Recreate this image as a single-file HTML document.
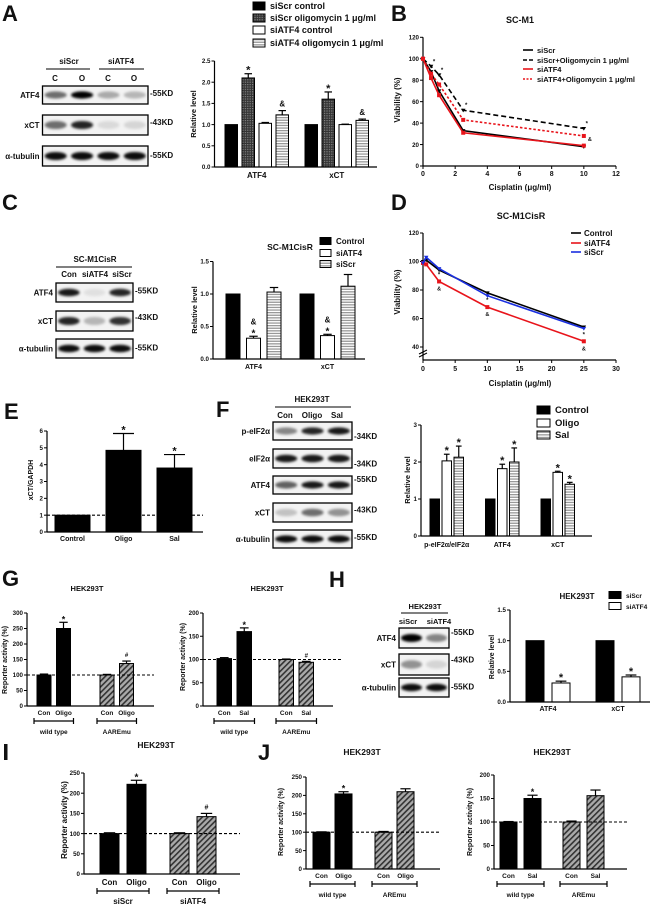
<!DOCTYPE html>
<html><head><meta charset="utf-8">
<style>
html,body{margin:0;padding:0;background:#fff;}
svg{display:block;font-family:"Liberation Sans",Arial,sans-serif;}
text{fill:#111;}
</style></head>
<body>
<svg id="fig" width="650" height="906" viewBox="0 0 650 906" xmlns="http://www.w3.org/2000/svg">
<defs>
<pattern id="check" width="2.4" height="2.4" patternUnits="userSpaceOnUse"><rect width="2.4" height="2.4" fill="#333"/><rect width="1.2" height="1.2" fill="#888"/></pattern>
<pattern id="hs" width="3" height="2.6" patternUnits="userSpaceOnUse"><rect width="3" height="2.6" fill="#fff"/><rect y="0" width="3" height="1.3" fill="#999"/></pattern>
<pattern id="diag" width="4" height="4" patternUnits="userSpaceOnUse" patternTransform="rotate(45)"><rect width="4" height="4" fill="#aaa"/><rect width="1.6" height="4" fill="#333"/></pattern>
<filter id="blur" x="-50%" y="-50%" width="200%" height="200%"><feGaussianBlur stdDeviation="1.3"/></filter>
</defs>
</svg>
<script>
// ---------- data ----------
const aCats=['ATF4','xCT'];
const aSeries=['siScr control','siScr oligomycin 1 μg/ml','siATF4 control','siATF4 oligomycin 1 μg/ml'];
const aVals=[[1,2.1,1.03,1.23],[1,1.6,1.0,1.1]];
const aErr=[[0,0.1,0.02,0.1],[0,0.17,0.01,0.03]];
const aMarks=[['','*','','&'],['','*','','&']];
const aTicks=[0,0.5,1,1.5,2,2.5];

const bX=[0,0.5,1,2.5,10];
const bSeries=['siScr','siScr+Oligomycin 1 μg/ml','siATF4','siATF4+Oligomycin 1 μg/ml'];
const bSiScr=[100,88,70,33,18];
const bSiScrOligo=[100,93,85,52,35];
const bSiATF4=[100,82,66,31,19];
const bSiATF4Oligo=[100,86,76,43,28];
const bXTicks=[0,2,4,6,8,10,12];
const bYTicks=[0,20,40,60,80,100,120];

const cCats=['ATF4','xCT'];
const cSeries=['Control','siATF4','siScr'];
const cVals=[[1,0.32,1.03],[1,0.36,1.12]];
const cErr=[[0,0.03,0.07],[0,0.02,0.18]];
const cMarks=[['','&\n*',''],['','&\n*','']];
const cTicks=[0,0.5,1,1.5];

const dX=[0,0.5,2.5,10,25];
const dSeries=['Control','siATF4','siScr'];
const dControl=[100,101,94,78,54];
const dSiATF4=[99,98,86,68,44];
const dSiScr=[99,103,95,76,53];
const dXTicks=[0,5,10,15,20,25,30];
const dYTicks=[40,60,80,100,120];

const eCats=['Control','Oligo','Sal'];
const eVals=[1,4.85,3.8];
const eErr=[0,1.0,0.8];
const eMarks=['','*','*'];
const eTicks=[0,1,2,3,4,5,6];

const fCats=['p-eIF2α/eIF2α','ATF4','xCT'];
const fSeries=['Control','Oligo','Sal'];
const fVals=[[1,2.03,2.13],[1,1.82,2.0],[1,1.72,1.4]];
const fErr=[[0,0.18,0.3],[0,0.12,0.38],[0,0.03,0.05]];
const fMarks=[['','*','*'],['','*','*'],['','*','*']];
const fTicks=[0,1,2,3];

const g1Groups=['wild type','AAREmu'];
const g1Bars=[['Con','Oligo'],['Con','Oligo']];
const g1Vals=[[100,250],[100,137]];
const g1Err=[[3,20],[2,8]];
const g1Marks=[['','*'],['','#']];
const g1Ticks=[0,50,100,150,200,250,300];

const g2Groups=['wild type','AAREmu'];
const g2Bars=[['Con','Sal'],['Con','Sal']];
const g2Vals=[[102,160],[100,94]];
const g2Err=[[2,8],[1,2]];
const g2Marks=[['','*'],['','#']];
const g2Ticks=[0,50,100,150,200];

const hCats=['ATF4','xCT'];
const hSeries=['siScr','siATF4'];
const hVals=[[1,0.31],[1,0.41]];
const hErr=[[0,0.03],[0,0.03]];
const hMarks=[['','*'],['','*']];
const hTicks=[0,0.5,1,1.5];

const iGroups=['siScr','siATF4'];
const iBars=[['Con','Oligo'],['Con','Oligo']];
const iVals=[[100,222],[100,142]];
const iErr=[[2,10],[2,8]];
const iMarks=[['','*'],['','#']];
const iTicks=[0,50,100,150,200,250];

const j1Groups=['wild type','AREmu'];
const j1Bars=[['Con','Oligo'],['Con','Oligo']];
const j1Vals=[[100,204],[100,210]];
const j1Err=[[1,6],[2,8]];
const j1Marks=[['','*'],['','']];
const j1Ticks=[0,50,100,150,200,250];

const j2Groups=['wild type','AREmu'];
const j2Bars=[['Con','Sal'],['Con','Sal']];
const j2Vals=[[100,150],[100,156]];
const j2Err=[[1,7],[2,12]];
const j2Marks=[['','*'],['','']];
const j2Ticks=[0,50,100,150,200];

// ---------- helpers ----------
const NS='http://www.w3.org/2000/svg';
const svg=document.getElementById('fig');
function mk(tag,attrs,parent){const e=document.createElementNS(NS,tag);for(const k in attrs)e.setAttribute(k,attrs[k]);(parent||svg).appendChild(e);return e;}
function txt(s,x,y,size,parent,anchor,weight){const t=mk('text',{x:x,y:y,'font-size':size,'text-anchor':anchor||'middle','font-weight':weight||'bold'},parent);t.textContent=s;return t;}
function grp(name){const g=mk('g',{});return g;}

function panelLetter(s,x,y){const t=txt(s,x,y,22,svg,'start','bold');}

function yAxis(g,L,base,top,max,min,ticks,fmt){
  const y=v=>base-((v-min)/(max-min))*(base-top);
  const ax=mk('line',{x1:L,y1:base,x2:L,y2:top,stroke:'#000','stroke-width':1.2},g);
  
  
  ticks.forEach(v=>{
    const tk=mk('line',{x1:L-3,y1:y(v),x2:L,y2:y(v),stroke:'#000','stroke-width':1},g);
    
    
    const tl=txt(fmt(v),L-4,y(v)+2.2,6.2,g,'end');
    
    
  });
  return y;
}
function yTitle(g,s,x,cy,size){const t=txt(s,0,0,size||7.5,g,'middle');t.setAttribute('transform','translate('+x+','+cy+') rotate(-90)');}

function bars(g,o,y){
  // o.vals[group][bar]
  o.vals.forEach((grpv,gi)=>{
    grpv.forEach((v,bi)=>{
      const x=o.first+gi*o.gstep+bi*o.step;
      const top=y(v), e=o.err[gi][bi];
      if(e>0){
        const el=mk('line',{x1:x+o.w/2,y1:top,x2:x+o.w/2,y2:y(v+e),stroke:'#000','stroke-width':1.2},g);
        
        
        const cap=mk('line',{x1:x+o.w*0.2,y1:y(v+e),x2:x+o.w*0.8,y2:y(v+e),stroke:'#000','stroke-width':1.2},g);
        
        
      }
      const r=mk('rect',{x:x,y:top,width:o.w,height:o.base-top,fill:o.fills[bi],stroke:'#000','stroke-width':1},g);
      
      
      const m=o.marks[gi][bi];
      if(m){
        const lines=m.split('\n');
        lines.forEach((s,li)=>{
          const sz=s==='*'?o.starSize||10:o.markSize||8;
          const t=txt(s,x+o.w/2,y(v+e)-4-(lines.length-1-li)*8+(s==='*'?4:0),sz,g);
          
          
        });
      }
    });
  });
}
function xAxis(g,L,R,base){const a=mk('line',{x1:L,y1:base,x2:R,y2:base,stroke:'#000','stroke-width':1.2},g);}
function catLabels(g,o,cats,ly,size){
  cats.forEach((c,gi)=>{
    const n=o.vals[gi].length;
    const cx=o.first+gi*o.gstep+((n-1)*o.step+o.w)/2;
    const t=txt(c,cx,ly,size||7.5,g);
    
    
  });
}
function barLabels(g,o,barNames,groupNames,ly,size){
  barNames.forEach((bn,gi)=>{
    bn.forEach((s,bi)=>{
      const x=o.first+gi*o.gstep+bi*o.step+o.w/2;
      const t=txt(s,x,ly,size||6.5,g);
      
      
    });
    const x1=o.first+gi*o.gstep-3, x2=o.first+gi*o.gstep+(bn.length-1)*o.step+o.w+3;
    const by=ly+6;
    const br=mk('path',{d:'M'+x1+' '+(by-3)+'V'+(by+3)+'M'+x1+' '+by+'H'+x2+'M'+x2+' '+(by-3)+'V'+(by+3),stroke:'#000','stroke-width':1.2,fill:'none'},g);
    
    
    const t=txt(groupNames[gi],(x1+x2)/2,by+13,size||6.5,g);
    
    
  });
}
function dashed(g,L,R,yv){const d=mk('line',{x1:L,y1:yv,x2:R,y2:yv,stroke:'#000','stroke-width':1.1,'stroke-dasharray':'3,2'},g);}
function legendSwatch(g,x,yc,fill,label,size,w,h){
  const r=mk('rect',{x:x,y:yc-(h||7)/2,width:w||12,height:h||7,fill:fill,stroke:'#000','stroke-width':1},g);
  
  
  const t=txt(label,x+(w||12)+5,yc+3,size||8,g,'start');
  
  
}
function title(g,s,x,y,size){const t=txt(s,x,y,size||8.5,g);}

function blotRow(g,x,y,w,h,label,kd,lanes,kdDy){
  const box=mk('rect',{x:x,y:y,width:w,height:h,fill:'#f3f3f3',stroke:'#000','stroke-width':1.3},g);
  
  
  const n=lanes.length;
  lanes.forEach((v,i)=>{
    const cx=x+w*(i+0.5)/n;
    const b=mk('ellipse',{cx:cx,cy:y+h/2,rx:w/n*0.42,ry:h*0.2,fill:'#000','fill-opacity':v,filter:'url(#blur)'},g);
    
    
  });
  const t=txt(label,x-3,y+h/2+3,8,g,'end');
  
  
  const k=txt('-'+kd,x+w+2,y+h/2+3+(kdDy||0),8,g,'start');
  
  
}
function blotHeader(g,labelsTop,lines,lanes,laneY,laneXs,size){
  labelsTop.forEach(l=>{const t=txt(l.s,l.x,l.y,size||8,g);});
  lines.forEach(l=>{const ln=mk('line',{x1:l[0],y1:l[2],x2:l[1],y2:l[2],stroke:'#000','stroke-width':1},g);});
  lanes.forEach((s,i)=>{const t=txt(s,laneXs[i],laneY,size||8,g);});
}

function lineChart(g,o){
  const x=v=>o.L+(v-o.xmin)/(o.xmax-o.xmin)*(o.R-o.L);
  const y=v=>o.base-(v-o.ymin)/(o.ymax-o.ymin)*(o.base-o.top);
  return {x:x,y:y};
}
function series(g,xs,vals,sx,sy,color,dash,marker){
  const pts=xs.map((v,i)=>sx(v)+','+sy(vals[i])).join(' ');
  const pl=mk('polyline',{points:pts,fill:'none',stroke:color,'stroke-width':1.6,'stroke-dasharray':dash||'none'},g);
  
  
  xs.forEach((v,i)=>{
    const px=sx(v),py=sy(vals[i]);
    let m;
    if(marker==='sq') m=mk('rect',{x:px-2,y:py-2,width:4,height:4,fill:color},g);
    else m=mk('path',{d:'M'+(px-2.3)+' '+(py-1.5)+'L'+(px+2.3)+' '+(py-1.5)+'L'+px+' '+(py+2.2)+'Z',fill:color},g);
    
    
  });
}
const fmt1=v=>v.toFixed(1), fmt0=v=>String(v);

// ================= Panel A =================
panelLetter('A',2,21);
(function(){
  const g=grp('panel-a-blot');
  blotHeader(g,[{s:'siScr',x:69,y:64},{s:'siATF4',x:121,y:64}],[[46,90,69],[99,144,69]],['C','O','C','O'],81,[55,82,108,134]);
  blotRow(g,42.5,86,105.5,18,'ATF4','55KD',[0.55,1,0.3,0.25],-2);
  blotRow(g,42.5,115,105.5,20,'xCT','43KD',[0.55,0.85,0.1,0.12],-3);
  blotRow(g,42.5,146,105.5,20,'α-tubulin','55KD',[0.95,0.95,0.95,0.95],-1);
})();
(function(){
  const g=grp('panel-a-bar-chart');
  const o={first:225,w:12.5,step:17,gstep:80,base:167,vals:aVals,err:aErr,marks:aMarks,fills:['#000','url(#check)','#fff','url(#hs)'],starSize:11};
  const y=yAxis(g,214.5,167,61,2.5,0,aTicks,fmt1);
  bars(g,o,y);
  xAxis(g,214.5,377,167);
  catLabels(g,o,aCats,178,8);
  yTitle(g,'Relative level',196,114,7.5);
  const fills=['#000','url(#check)','#fff','url(#hs)'];
  const lg=grp('panel-a-legend');
  aSeries.forEach((s,i)=>legendSwatch(lg,253,[6,18,30,43][i],fills[i],s,9,12,8));
})();

// ================= Panel B =================
panelLetter('B',391,21);
(function(){
  const g=grp('panel-b-line-chart');
  title(g,'SC-M1',520,23,9);
  const s=lineChart(g,{L:423,R:616,xmin:0,xmax:12,base:166,top:37.3,ymin:0,ymax:120});
  yAxis(g,423,166,37.3,120,0,bYTicks,fmt0);
  xAxis(g,423,616,166);
  bXTicks.forEach(v=>{
    const t=mk('line',{x1:s.x(v),y1:166,x2:s.x(v),y2:169,stroke:'#000'},g);
    
    
    const l=txt(String(v),s.x(v),176,7,g);
    
    
  });
  const xt=txt('Cisplatin (μg/ml)',520,190,8,g);
  
  
  yTitle(g,'Viability (%)',400,100,8);
  series(g,bX,bSiScr,s.x,s.y,'#000',null,'tri');
  series(g,bX,bSiScrOligo,s.x,s.y,'#000','5,3','tri');
  series(g,bX,bSiATF4,s.x,s.y,'#e8141b',null,'sq');
  series(g,bX,bSiATF4Oligo,s.x,s.y,'#e8141b','2.5,2','sq');
  bX.slice(1).forEach((v,i)=>{
    const st=txt('*',s.x(v)+3,s.y(bSiScrOligo[i+1])-3,6,g);
    
    
  });
  const am=txt('&',s.x(10)+6,s.y(bSiATF4Oligo[4])+5,5.5,g);
  
  
  const lg=grp('panel-b-legend');
  const cols=['#000','#000','#e8141b','#e8141b'], dashes=['none','4,2','none','2,1.5'];
  bSeries.forEach((n,i)=>{
    const yy=[50,60,69,79][i];
    const ln=mk('line',{x1:523,y1:yy,x2:533,y2:yy,stroke:cols[i],'stroke-width':1.6,'stroke-dasharray':dashes[i]},lg);
    
    
    const t=txt(n,537,yy+3,7.5,lg,'start');
    
    
  });
})();

// ================= Panel C =================
panelLetter('C',2,210);
(function(){
  const g=grp('panel-c-blot');
  blotHeader(g,[{s:'SC-M1CisR',x:95,y:262}],[[56,132,267]],['Con','siATF4','siScr'],277,[69,95,122]);
  blotRow(g,56,283,77,19,'ATF4','55KD',[0.9,0.08,0.85],-2);
  blotRow(g,56,311,77,20,'xCT','43KD',[0.85,0.25,0.8],-4);
  blotRow(g,56,339,77,19,'α-tubulin','55KD',[0.95,0.95,0.95],-1);
})();
(function(){
  const g=grp('panel-c-bar-chart');
  const o={first:226,w:14,step:20.5,gstep:74,base:359,vals:cVals,err:cErr,marks:cMarks,fills:['#000','#fff','url(#hs)'],starSize:10,markSize:8};
  const y=yAxis(g,213,359,261.5,1.5,0,cTicks,fmt1);
  bars(g,o,y);
  xAxis(g,213,365,359);
  catLabels(g,o,cCats,369,7);
  yTitle(g,'Relative level',197,310,7.5);
  title(g,'SC-M1CisR',290,250,8.5);
  const fills=['#000','#fff','url(#hs)'];
  const lg=grp('panel-c-legend');
  cSeries.forEach((s,i)=>legendSwatch(lg,320,[241,253,264][i],fills[i],s,8,11,7));
})();

// ================= Panel D =================
panelLetter('D',391,210);
(function(){
  const g=grp('panel-d-line-chart');
  title(g,'SC-M1CisR',521,219,9);
  const s=lineChart(g,{L:423,R:616,xmin:0,xmax:30,base:347,top:233,ymin:40,ymax:120});
  yAxis(g,423,347,233,120,40,dYTicks,fmt0);
  const ax2=mk('line',{x1:423,y1:347,x2:423,y2:360,stroke:'#000','stroke-width':1.2},g);
  
  
  const brk=mk('path',{d:'M419 354L427 350M419 357L427 353',stroke:'#000','stroke-width':1},g);
  
  
  xAxis(g,423,616,360);
  dXTicks.forEach(v=>{
    const t=mk('line',{x1:s.x(v),y1:360,x2:s.x(v),y2:363,stroke:'#000'},g);
    
    
    const l=txt(String(v),s.x(v),371,7,g);
    
    
  });
  const xt=txt('Cisplatin (μg/ml)',520,386,8,g);
  
  
  yTitle(g,'Viability (%)',400,292,8);
  series(g,dX,dControl,s.x,s.y,'#000',null,'tri');
  series(g,dX,dSiATF4,s.x,s.y,'#e8141b',null,'sq');
  series(g,dX,dSiScr,s.x,s.y,'#1a2fe0',null,'tri');
  dX.slice(2).forEach((v,i)=>{
    const st=txt('*',s.x(v),s.y(dSiATF4[i+2])-5,6,g);
    
    
    const am=txt('&',s.x(v),s.y(dSiATF4[i+2])+9,5.5,g);
    
    
  });
  const lg=grp('panel-d-legend');
  const cols=['#000','#e8141b','#1a2fe0'];
  dSeries.forEach((n,i)=>{
    const yy=[233,243,252][i];
    const ln=mk('line',{x1:571,y1:yy,x2:581,y2:yy,stroke:cols[i],'stroke-width':1.6},lg);
    
    
    const t=txt(n,584,yy+3,8,lg,'start');
    
    
  });
})();

// ================= Panel E =================
panelLetter('E',4,419);
(function(){
  const g=grp('panel-e-bar-chart');
  const o={first:55,w:35,step:51,gstep:0,base:532,vals:[eVals],err:[eErr],marks:[eMarks],fills:['#000','#000','#000'],starSize:11};
  const y=yAxis(g,47,532,431,6,0,eTicks,fmt0);
  bars(g,o,y);
  xAxis(g,47,203,532);
  dashed(g,47,203,y(1));
  eCats.forEach((c,i)=>{
    const t=txt(c,o.first+i*o.step+o.w/2,541,7,g);
    
    
  });
  yTitle(g,'xCT/GAPDH',33,480,7);
})();

// ================= Panel F =================
panelLetter('F',216,417);
(function(){
  const g=grp('panel-f-blot');
  blotHeader(g,[{s:'HEK293T',x:312,y:402}],[[275,351,407]],['Con','Oligo','Sal'],418,[285,312,337]);
  blotRow(g,273,422,79,18,'p-eIF2α','34KD',[0.45,0.85,0.9],5);
  blotRow(g,273,449,79,19,'eIF2α','34KD',[0.9,0.9,0.9],5);
  blotRow(g,273,476,79,18,'ATF4','55KD',[0.6,0.9,0.9],-6);
  blotRow(g,273,503,79,19,'xCT','43KD',[0.2,0.55,0.4],-3);
  blotRow(g,273,530,79,18,'α-tubulin','55KD',[0.95,0.95,0.95],-2);
})();
(function(){
  const g=grp('panel-f-bar-chart');
  const o={first:430,w:9.5,step:12,gstep:55.5,base:536,vals:fVals,err:fErr,marks:fMarks,fills:['#000','#fff','url(#hs)'],starSize:11};
  const y=yAxis(g,421,536,425,3,0,fTicks,fmt0);
  bars(g,o,y);
  xAxis(g,421,592,536);
  catLabels(g,o,fCats,547,7);
  yTitle(g,'Relative level',410,480,7.5);
  const fills=['#000','#fff','url(#hs)'];
  const lg=grp('panel-f-legend');
  fSeries.forEach((s,i)=>legendSwatch(lg,537,[410,423,435][i],fills[i],s,9.5,13,8));
})();

// ================= Panel G =================
panelLetter('G',2,586);
(function(){
  const g=grp('panel-g-left-bar-chart');
  title(g,'HEK293T',87,591,7.5);
  const o={first:37,w:14,step:19.5,gstep:63,base:706,vals:g1Vals,err:g1Err,marks:g1Marks,fills:['#000','#000'],starSize:9,markSize:6};
  const y=yAxis(g,27,706,613,300,0,g1Ticks,fmt0);
  o.fills=['#000','#000'];
  bars(g,{...o,vals:[g1Vals[0]],err:[g1Err[0]],marks:[g1Marks[0]]},y);
  bars(g,{...o,first:o.first+o.gstep,vals:[g1Vals[1]],err:[g1Err[1]],marks:[g1Marks[1]],fills:['url(#diag)','url(#diag)']},y);
  xAxis(g,27,154,706);
  dashed(g,27,154,y(100));
  barLabels(g,o,g1Bars,g1Groups,715,6.5);
  yTitle(g,'Reporter activity (%)',7,660,7);
})();
(function(){
  const g=grp('panel-g-right-bar-chart');
  title(g,'HEK293T',267,591,7.5);
  const o={first:217,w:14.5,step:20,gstep:62,base:706,vals:g2Vals,err:g2Err,marks:g2Marks,fills:['#000','#000'],starSize:9,markSize:6};
  const y=yAxis(g,203,706,613,200,0,g2Ticks,fmt0);
  bars(g,{...o,vals:[g2Vals[0]],err:[g2Err[0]],marks:[g2Marks[0]]},y);
  bars(g,{...o,first:o.first+o.gstep,vals:[g2Vals[1]],err:[g2Err[1]],marks:[g2Marks[1]],fills:['url(#diag)','url(#diag)']},y);
  xAxis(g,203,333,706);
  dashed(g,203,341,y(100));
  barLabels(g,o,g2Bars,g2Groups,715,6.5);
  yTitle(g,'Reporter activity (%)',185,657,7);
})();

// ================= Panel H =================
panelLetter('H',329,587);
(function(){
  const g=grp('panel-h-blot');
  blotHeader(g,[{s:'HEK293T',x:425,y:609}],[[401,448,613]],['siScr','siATF4'],624,[408,439],7.5);
  blotRow(g,399,628,50,20,'ATF4','55KD',[1,0.45],-6);
  blotRow(g,399,654,50,21,'xCT','43KD',[0.4,0.12],-5);
  blotRow(g,399,678,50,19,'α-tubulin','55KD',[0.95,0.95],-1);
})();
(function(){
  const g=grp('panel-h-bar-chart');
  const o={first:526,w:18,step:26,gstep:70,base:702,vals:hVals,err:hErr,marks:hMarks,fills:['#000','#fff'],starSize:11};
  const y=yAxis(g,510,702,610,1.5,0,hTicks,fmt1);
  bars(g,o,y);
  xAxis(g,510,650,702);
  catLabels(g,o,hCats,711,7);
  yTitle(g,'Relative level',494,657,7);
  title(g,'HEK293T',577,599,8);
  const lg=grp('panel-h-legend');
  hSeries.forEach((s,i)=>legendSwatch(lg,609,[595,606][i],['#000','#fff'][i],s,6.5,12,7));
})();

// ================= Panel I =================
(function(){
  const bar=mk('rect',{x:4,y:744,width:3.5,height:16,fill:'#111'});
  
  
  const t=txt('I',5,760,1,svg,'start');
  
  
})();
(function(){
  const g=grp('panel-i-bar-chart');
  title(g,'HEK293T',156,748,8.5);
  const o={first:100,w:19,step:27,gstep:70,base:874,vals:iVals,err:iErr,marks:iMarks,fills:['#000','#000'],starSize:10,markSize:7};
  const y=yAxis(g,84,874,773,250,0,iTicks,fmt0);
  bars(g,{...o,vals:[iVals[0]],err:[iErr[0]],marks:[iMarks[0]]},y);
  bars(g,{...o,first:o.first+o.gstep,vals:[iVals[1]],err:[iErr[1]],marks:[iMarks[1]],fills:['url(#diag)','url(#diag)']},y);
  xAxis(g,84,240,874);
  dashed(g,84,240,y(100));
  barLabels(g,o,iBars,iGroups,885,8);
  yTitle(g,'Reporter activity (%)',67,820,8);
})();

// ================= Panel J =================
panelLetter('J',258,760);
(function(){
  const g=grp('panel-j-left-bar-chart');
  title(g,'HEK293T',362,755,8.5);
  const o={first:313,w:17,step:22,gstep:62,base:869,vals:j1Vals,err:j1Err,marks:j1Marks,fills:['#000','#000'],starSize:9,markSize:6};
  const y=yAxis(g,306,869,777,250,0,j1Ticks,fmt0);
  bars(g,{...o,vals:[j1Vals[0]],err:[j1Err[0]],marks:[j1Marks[0]]},y);
  bars(g,{...o,first:o.first+o.gstep,vals:[j1Vals[1]],err:[j1Err[1]],marks:[j1Marks[1]],fills:['url(#diag)','url(#diag)']},y);
  xAxis(g,306,440,869);
  dashed(g,306,440,y(100));
  barLabels(g,o,j1Bars,j1Groups,878,6.5);
  yTitle(g,'Reporter activity (%)',283,822,7);
})();
(function(){
  const g=grp('panel-j-right-bar-chart');
  title(g,'HEK293T',552,755,8.5);
  const o={first:500,w:17,step:24,gstep:63,base:869,vals:j2Vals,err:j2Err,marks:j2Marks,fills:['#000','#000'],starSize:9,markSize:6};
  const y=yAxis(g,494,869,775,200,0,j2Ticks,fmt0);
  bars(g,{...o,vals:[j2Vals[0]],err:[j2Err[0]],marks:[j2Marks[0]]},y);
  bars(g,{...o,first:o.first+o.gstep,vals:[j2Vals[1]],err:[j2Err[1]],marks:[j2Marks[1]],fills:['url(#diag)','url(#diag)']},y);
  xAxis(g,494,627,869);
  dashed(g,494,627,y(100));
  barLabels(g,o,j2Bars,j2Groups,878,6.5);
  yTitle(g,'Reporter activity (%)',472,822,7);
})();
</script>
</body></html>
